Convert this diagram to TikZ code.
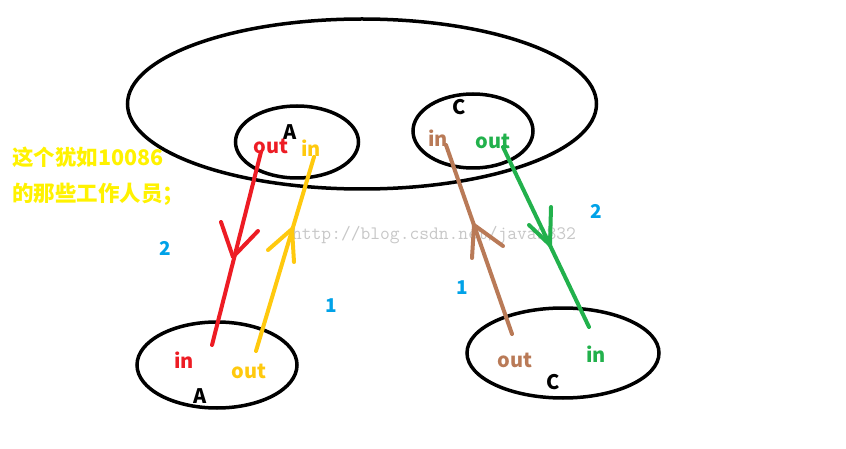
\documentclass[tikz,border=0pt]{standalone}
\usepackage{fontspec}
\setmainfont{Noto Sans CJK SC}
\usetikzlibrary{shapes.geometric}
\definecolor{pred}{RGB}{237,28,36}
\definecolor{pyellow}{RGB}{255,201,14}
\definecolor{plemon}{RGB}{255,242,0}
\definecolor{pbrown}{RGB}{185,122,87}
\definecolor{pgreen}{RGB}{34,177,76}
\definecolor{pblue}{RGB}{0,162,232}

\begin{document}
\begin{tikzpicture}[
                x=1pt, y=-1pt,
                ring/.style = {ellipse, draw, line width=3.5pt, inner sep=0pt},
                tag/.style = {font=\bfseries\fontsize{20}{20}\selectfont, inner sep=0pt},
                num/.style = {font=\bfseries\fontsize{19}{19}\selectfont, text=pblue, inner sep=0pt},
                wire/.style = {line width=4pt, line cap=round, line join=round}
        ]
        \useasboundingbox (0,0) rectangle (846,449);
        \node[ring, minimum width=469pt, minimum height=170pt] (hall) at (362,104) {};
        \node[ring, minimum width=123pt, minimum height=72pt] (topA) at (297,142) {};
        \node[ring, minimum width=120pt, minimum height=74pt] (topC) at (473,131) {};
        \node[ring, minimum width=160pt, minimum height=86pt] (botA) at (217,365) {};
        \node[ring, minimum width=192pt, minimum height=90pt] (botC) at (563,353) {};

        \node[tag] (nameA) at (290,132) {A};
        \node[tag, text=pred] (outA) at (271,146) {out};
        \node[tag, text=pyellow] (inA) at (311,148) {in};
        \node[tag] (nameC) at (459,107) {C};
        \node[tag, text=pbrown] (inC) at (438,138) {in};
        \node[tag, text=pgreen] (outC) at (493,141) {out};
        \node[tag, text=pred] (inA2) at (184,360) {in};
        \node[tag, text=pyellow] (outA2) at (249,371) {out};
        \node[tag] (nameA2) at (200,396) {A};
        \node[tag, text=pbrown] (outC2) at (515,360) {out};
        \node[tag, text=pgreen] (inC2) at (596,354) {in};
        \node[tag] (nameC2) at (553,382) {C};

        \node[num] (stepA2) at (165,248) {2};
        \node[num] (stepA1) at (331,306) {1};
        \node[num] (stepC1) at (462,288) {1};
        \node[num] (stepC2) at (596,211) {2};

        \node[tag, text=plemon, anchor=west, align=left, font=\bfseries\fontsize{21.5}{36}\selectfont] (note) at (12,176) {这个犹如10086\\的那些工作人员；};
        \node[text=black!22, font=\ttfamily\fontsize{19}{19}\selectfont, inner sep=0pt] (mark) at (434,235) {http://blog.csdn.net/java9832};

        \coordinate (redS) at (261,152);  \coordinate (redE) at (212,345);  \coordinate (redT) at (233,257);
        \coordinate (yelS) at (256,351);  \coordinate (yelE) at (314,157);  \coordinate (yelT) at (292,229);
        \coordinate (broS) at (512,334);  \coordinate (broE) at (446,145);  \coordinate (broT) at (474,225);
        \coordinate (greS) at (503,147);  \coordinate (greE) at (589,327);  \coordinate (greT) at (550,245);

        \draw[wire, pred] (redS) -- (redE);
        \draw[wire, pred] (221,222) -- (redT) -- (258,231);
        \draw[wire, pyellow] (yelS) -- (yelE);
        \draw[wire, pyellow] (268,250) -- (yelT) -- (294,262);
        \draw[wire, pbrown] (broS) -- (broE);
        \draw[wire, pbrown] (472,258) -- (broT) -- (503,246);
        \draw[wire, pgreen] (greS) -- (greE);
        \draw[wire, pgreen] (551,207) -- (greT) -- (529,225);
\end{tikzpicture}
\end{document}
